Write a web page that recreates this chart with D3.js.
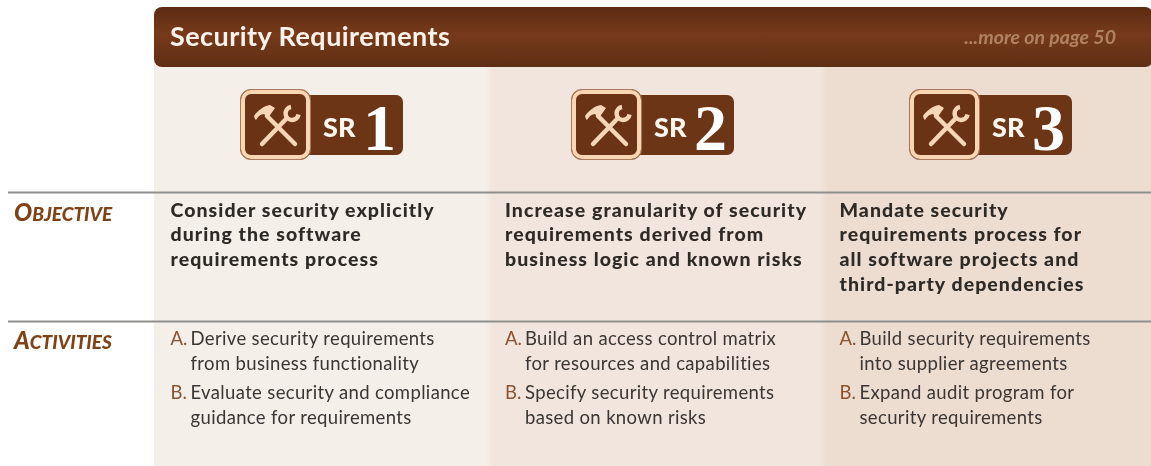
<!DOCTYPE html>
<html>
<head>
<meta charset="utf-8">
<script src="https://cdn.jsdelivr.net/npm/d3@7"></script>
<style>
  html, body { margin: 0; padding: 0; background: #fff; }
  svg { display: block; }
  text { font-family: Lato, "Open Sans", sans-serif; }
</style>
</head>
<body>
<svg id="chart" width="1151" height="466"></svg>
<script>
var title = 'Security Requirements';
var moreLink = '...more on page 50';
var practices = ['1', '2', '3'];
var practiceTag = 'SR';
var rowLabels = ['Objective', 'Activities'];

var objectives = [
  ['Consider security explicitly', 'during the software', 'requirements process'],
  ['Increase granularity of security', 'requirements derived from', 'business logic and known risks'],
  ['Mandate security', 'requirements process for', 'all software projects and', 'third-party dependencies']
];

var activitiesA = [
  ['Derive security requirements', 'from business functionality'],
  ['Build an access control matrix', 'for resources and capabilities'],
  ['Build security requirements', 'into supplier agreements']
];

var activitiesB = [
  ['Evaluate security and compliance', 'guidance for requirements'],
  ['Specify security requirements', 'based on known risks'],
  ['Expand audit program for', 'security requirements']
];

var columnFills = ['#f5efea', '#f2e5dd', '#eddcd0'];

var svg = d3.select('#chart');
var width = +svg.attr('width');
var height = +svg.attr('height');

var x = d3.scaleLinear().domain([0, 3]).range([153.5, 1157]);
var badgeX = d3.scaleOrdinal().domain(practices).range([240, 571, 909]);

var defs = svg.append('defs');

var headerGrad = defs.append('linearGradient')
    .attr('id', 'headerGrad')
    .attr('x1', 0).attr('x2', 0).attr('y1', 0).attr('y2', 1);
headerGrad.append('stop').attr('offset', '0%').attr('stop-color', '#5c2c12');
headerGrad.append('stop').attr('offset', '45%').attr('stop-color', '#773a1a');
headerGrad.append('stop').attr('offset', '100%').attr('stop-color', '#5e2e13');

defs.append('filter').attr('id', 'soft')
    .attr('x', '-5%').attr('width', '110%')
    .append('feGaussianBlur').attr('stdDeviation', 2.5);
defs.append('filter').attr('id', 'textSoft')
    .append('feGaussianBlur').attr('stdDeviation', 0.35);
defs.append('clipPath').attr('id', 'columnsClip')
    .append('rect').attr('x', 154).attr('y', 60).attr('width', width - 154).attr('height', height - 60);

// column backgrounds
svg.append('g')
    .attr('clip-path', 'url(#columnsClip)')
  .append('g')
    .attr('filter', 'url(#soft)')
  .selectAll('rect')
  .data(practices)
  .enter().append('rect')
    .attr('x', function(d, i) { return x(i) + (i > 0 ? 1 : -8); })
    .attr('y', 40)
    .attr('width', function(d, i) { return x(i + 1) - x(i) + (i < 2 ? 9 : 20); })
    .attr('height', height)
    .attr('fill', function(d, i) { return columnFills[i]; });

// header bar
svg.append('rect')
    .attr('x', 154).attr('y', 7)
    .attr('width', width - 154 + 2).attr('height', 60)
    .attr('rx', 8)
    .attr('fill', 'url(#headerGrad)');

svg.append('text')
    .attr('x', 170).attr('y', 46)
    .attr('font-size', 27).attr('font-weight', 700)
    .attr('letter-spacing', 0.45)
    .attr('fill', '#fbf3ea')
    .text(title);

svg.append('text')
    .attr('x', 1116).attr('y', 44)
    .attr('text-anchor', 'end')
    .attr('font-size', 19.5).attr('font-style', 'italic').attr('font-weight', 700)
    .attr('fill', '#b08262')
    .text(moreLink);

// badges
var badges = svg.selectAll('g.badge')
    .data(practices)
  .enter().append('g')
    .attr('class', 'badge')
    .attr('transform', function(d) { return 'translate(' + badgeX(d) + ',89)'; });

badges.append('rect')
    .attr('x', 0).attr('y', 6)
    .attr('width', 163).attr('height', 60)
    .attr('rx', 7)
    .attr('fill', '#6c3516');

badges.append('rect')
    .attr('x', 0.5).attr('y', 0.5)
    .attr('width', 70).attr('height', 70)
    .attr('rx', 10)
    .attr('fill', '#6a3315')
    .attr('stroke', '#a9785a').attr('stroke-width', 1);

badges.append('rect')
    .attr('x', 3).attr('y', 3)
    .attr('width', 65).attr('height', 65)
    .attr('rx', 8)
    .attr('fill', 'none')
    .attr('stroke', '#f8d6b4').attr('stroke-width', 4);

var toolColor = '#f6d6b6';

// hammer handle + head
badges.append('path')
    .attr('d', 'M27 27L55 55')
    .attr('stroke', toolColor).attr('stroke-width', 4.5).attr('stroke-linecap', 'round')
    .attr('fill', 'none');
badges.append('path')
    .attr('d', 'M15 30L14 27C18 21 24 17 30 16L35 19L28 29L24 25C21 25 18 27 16 31Z')
    .attr('fill', toolColor);

// wrench handle + head
badges.append('path')
    .attr('d', 'M47 29L22 55')
    .attr('stroke', toolColor).attr('stroke-width', 4.5).attr('stroke-linecap', 'round')
    .attr('fill', 'none');
badges.append('path')
    .attr('d', 'M51 18A6.5 6.5 0 1 0 58.5 25.5')
    .attr('stroke', toolColor).attr('stroke-width', 4.5)
    .attr('fill', 'none');

badges.append('text')
    .attr('x', 83).attr('y', 48)
    .attr('font-size', 27).attr('font-weight', 900)
    .attr('fill', '#fdf6ee')
    .text(practiceTag);

badges.append('text')
    .attr('x', 123).attr('y', 61)
    .style('font-family', '"Liberation Serif", serif')
    .attr('font-size', 66).attr('font-weight', 700)
    .attr('fill', '#ffffff')
    .text(function(d) { return d; });

// row rules
svg.selectAll('line.rule')
    .data([192.5, 321.5])
  .enter().append('line')
    .attr('class', 'rule')
    .attr('x1', 8).attr('x2', width)
    .attr('y1', function(d) { return d; })
    .attr('y2', function(d) { return d; })
    .attr('stroke', '#8f8f8d').attr('stroke-width', 2);

// row labels in small caps
var labels = svg.selectAll('text.rowLabel')
    .data(rowLabels)
  .enter().append('text')
    .attr('class', 'rowLabel')
    .attr('x', 14)
    .attr('y', function(d, i) { return i === 0 ? 221 : 349; })
    .attr('font-weight', 900).attr('font-style', 'italic')
    .attr('fill', '#7f4214');

labels.append('tspan')
    .attr('font-size', 24)
    .text(function(d) { return d.charAt(0); });
labels.append('tspan')
    .attr('font-size', 19)
    .text(function(d) { return d.slice(1).toUpperCase(); });

// objectives
var objectiveY = d3.scaleLinear().domain([0, 1]).range([216.5, 241.2]);

var objectiveText = svg.selectAll('g.objective')
    .data(objectives)
  .enter().append('g')
    .attr('class', 'objective')
    .attr('transform', function(d, i) { return 'translate(' + (x(i) + 17) + ',0)'; });

objectiveText.selectAll('text')
    .data(function(d) { return d; })
  .enter().append('text')
    .attr('y', function(d, i) { return objectiveY(i); })
    .attr('font-size', 19.5).attr('font-weight', 900)
    .attr('letter-spacing', 1.05)
    .attr('fill', '#2e2a28')
    .text(function(d) { return d; });

// activities
var drawActivity = function(lines, letter, top) {
  var group = svg.selectAll('g.activity' + letter)
      .data(lines)
    .enter().append('g')
      .attr('class', 'activity' + letter)
      .attr('transform', function(d, i) { return 'translate(' + (x(i) + 17) + ',' + top + ')'; });

  group.append('text')
      .attr('font-size', 18.5)
      .attr('fill', '#8a5230')
      .text(letter + '.');

  group.selectAll('text.line')
      .data(function(d) { return d; })
    .enter().append('text')
      .attr('class', 'line')
      .attr('x', 20)
      .attr('y', function(d, i) { return i * 24.5; })
      .attr('font-size', 18.5)
      .attr('letter-spacing', 0.35)
      .attr('fill', '#3a3634')
      .text(function(d) { return d; });
};

drawActivity(activitiesA, 'A', 345);
drawActivity(activitiesB, 'B', 399);

svg.selectAll('text').attr('filter', 'url(#textSoft)');
</script>
</body>
</html>
